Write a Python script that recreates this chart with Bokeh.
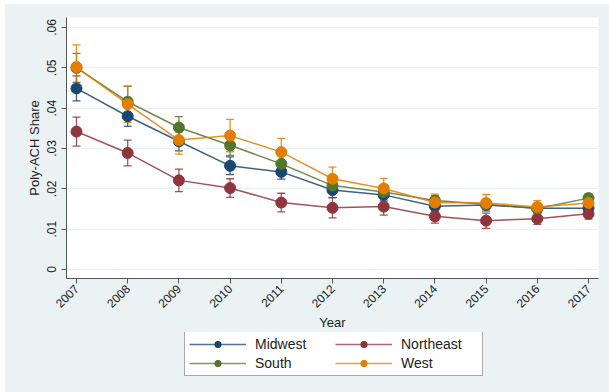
from bokeh.plotting import figure
from bokeh.layouts import column
from bokeh.models import (ColumnDataSource, Whisker, TeeHead, Legend, LegendItem,
                          FixedTicker, CustomJSTickFormatter, Range1d)
from bokeh.embed import file_html
from bokeh.resources import INLINE
import math

years = [2007, 2008, 2009, 2010, 2011, 2012, 2013, 2014, 2015, 2016, 2017]

midwest = [0.0449, 0.0380, 0.0318, 0.0257, 0.0242, 0.0197, 0.0185, 0.0157, 0.0160, 0.0152, 0.0152]
northeast = [0.0342, 0.0289, 0.0221, 0.0202, 0.0166, 0.0153, 0.0156, 0.0132, 0.0121, 0.0126, 0.0138]
south = [0.0500, 0.0416, 0.0352, 0.0308, 0.0262, 0.0208, 0.0192, 0.0171, 0.0162, 0.0151, 0.0177]
west = [0.0502, 0.0410, 0.0321, 0.0332, 0.0291, 0.0225, 0.0201, 0.0166, 0.0165, 0.0155, 0.0165]

# half-widths of the confidence intervals
midwest_ci = [0.0031, 0.0025, 0.0024, 0.0022, 0.0018, 0.0019, 0.0015, 0.0013, 0.0012, 0.0011, 0.0012]
northeast_ci = [0.0036, 0.0032, 0.0028, 0.0023, 0.0023, 0.0025, 0.0021, 0.0017, 0.0019, 0.0014, 0.0013]
south_ci = [0.0036, 0.0038, 0.0027, 0.0025, 0.0020, 0.0017, 0.0014, 0.0012, 0.0011, 0.0011, 0.0011]
west_ci = [0.0055, 0.0045, 0.0035, 0.0040, 0.0034, 0.0029, 0.0025, 0.0021, 0.0021, 0.0016, 0.0014]

y_ticks = [0.0, 0.01, 0.02, 0.03, 0.04, 0.05, 0.06]

series = [
    ("Midwest", midwest, midwest_ci, "#1a476f"),
    ("Northeast", northeast, northeast_ci, "#90353b"),
    ("South", south, south_ci, "#55752f"),
    ("West", west, west_ci, "#e37e00"),
]

FONT = "Liberation Sans"
TEXT = "#222222"
BG = "#eaf2f3"

# main chart
p = figure(width=604, height=328, output_backend="svg", toolbar_location=None,
           x_range=Range1d(2006.805, 2017.195), y_range=Range1d(-0.00223, 0.06248),
           min_border_left=61, min_border_right=11, min_border_top=13, min_border_bottom=52)
p.border_fill_color = BG
p.background_fill_color = "white"
p.outline_line_color = None

for name, vals, ci, col in series:
    src = ColumnDataSource(dict(x=years, y=vals,
                                lo=[v - c for v, c in zip(vals, ci)],
                                hi=[v + c for v, c in zip(vals, ci)]))
    w = Whisker(source=src, base="x", upper="hi", lower="lo", dimension="height",
                line_color=col, line_width=1.3, line_alpha=0.85,
                upper_head=TeeHead(size=8, line_color=col, line_width=1.3, line_alpha=0.85),
                lower_head=TeeHead(size=8, line_color=col, line_width=1.3, line_alpha=0.85))
    p.add_layout(w)
    p.line("x", "y", source=src, line_color=col, line_width=1.5, line_alpha=0.85)
    p.scatter("x", "y", source=src, size=11, fill_color=col, line_color=col)

p.yaxis.ticker = FixedTicker(ticks=y_ticks)
p.yaxis.formatter = CustomJSTickFormatter(
    code="return tick == 0 ? '0' : tick.toFixed(2).replace(/^0/, '');")
p.yaxis.major_label_orientation = "vertical"
p.xaxis.ticker = FixedTicker(ticks=years)
p.xaxis.major_label_orientation = math.pi / 4

for ax in (p.xaxis, p.yaxis):
    ax.axis_line_color = "#555555"
    ax.major_tick_line_color = "#555555"
    ax.major_tick_out = 5
    ax.major_tick_in = 0
    ax.minor_tick_line_color = None
    ax.major_label_text_font = FONT
    ax.major_label_text_font_size = "12px"
    ax.major_label_text_color = TEXT
    ax.axis_label_text_font = FONT
    ax.axis_label_text_font_size = "13px"
    ax.axis_label_text_font_style = "normal"
    ax.axis_label_text_color = TEXT

p.yaxis.axis_label = "Poly-ACH Share"
p.xaxis.axis_label = "Year"
p.yaxis.major_label_standoff = 5
p.yaxis.axis_label_standoff = 3
p.xaxis.major_label_standoff = 3
p.xaxis.axis_label_standoff = 0

p.xgrid.visible = False
p.ygrid.ticker = FixedTicker(ticks=y_ticks)
p.ygrid.grid_line_color = BG
p.ygrid.grid_line_width = 1

# legend strip underneath the chart (no axes, frame fills the strip)
lg = figure(width=604, height=60, output_backend="svg", toolbar_location=None,
            x_range=Range1d(0, 1), y_range=Range1d(0, 1),
            x_axis_location=None, y_axis_location=None,
            min_border_left=0, min_border_right=0, min_border_top=0, min_border_bottom=0)
lg.grid.visible = False
lg.outline_line_color = None
lg.background_fill_color = BG
lg.border_fill_color = BG

# key glyphs sit outside the visible range; only their legend swatches show
handles = {}
for name, vals, ci, col in series:
    ln = lg.line(x=[-5, -4], y=[-5, -5], line_color=col, line_width=1.3, line_alpha=0.75)
    sc = lg.scatter(x=[-5], y=[-5], size=9, fill_color=col, line_color=col)
    handles[name] = [ln, sc]

# column-major fill: Midwest/South in the first column, Northeast/West in the second
order = ["Midwest", "South", "Northeast", "West"]
items = [LegendItem(label=n, renderers=handles[n]) for n in order]

legend = Legend(items=items, location=(118, 16), orientation="vertical", ncols=2,
                glyph_width=57, glyph_height=16, label_width=77, label_height=16,
                label_standoff=9, spacing=3, padding=4, margin=0,
                label_text_font=FONT, label_text_font_size="14px", label_text_color=TEXT,
                border_line_color="#555555", border_line_width=1,
                background_fill_color="white", background_fill_alpha=1.0)
lg.add_layout(legend, "center")

layout = column(p, lg, spacing=0, margin=(4, 0, 0, 5))
layout.styles = {"background-color": BG}

open("out.html", "w").write(file_html(layout, INLINE))
